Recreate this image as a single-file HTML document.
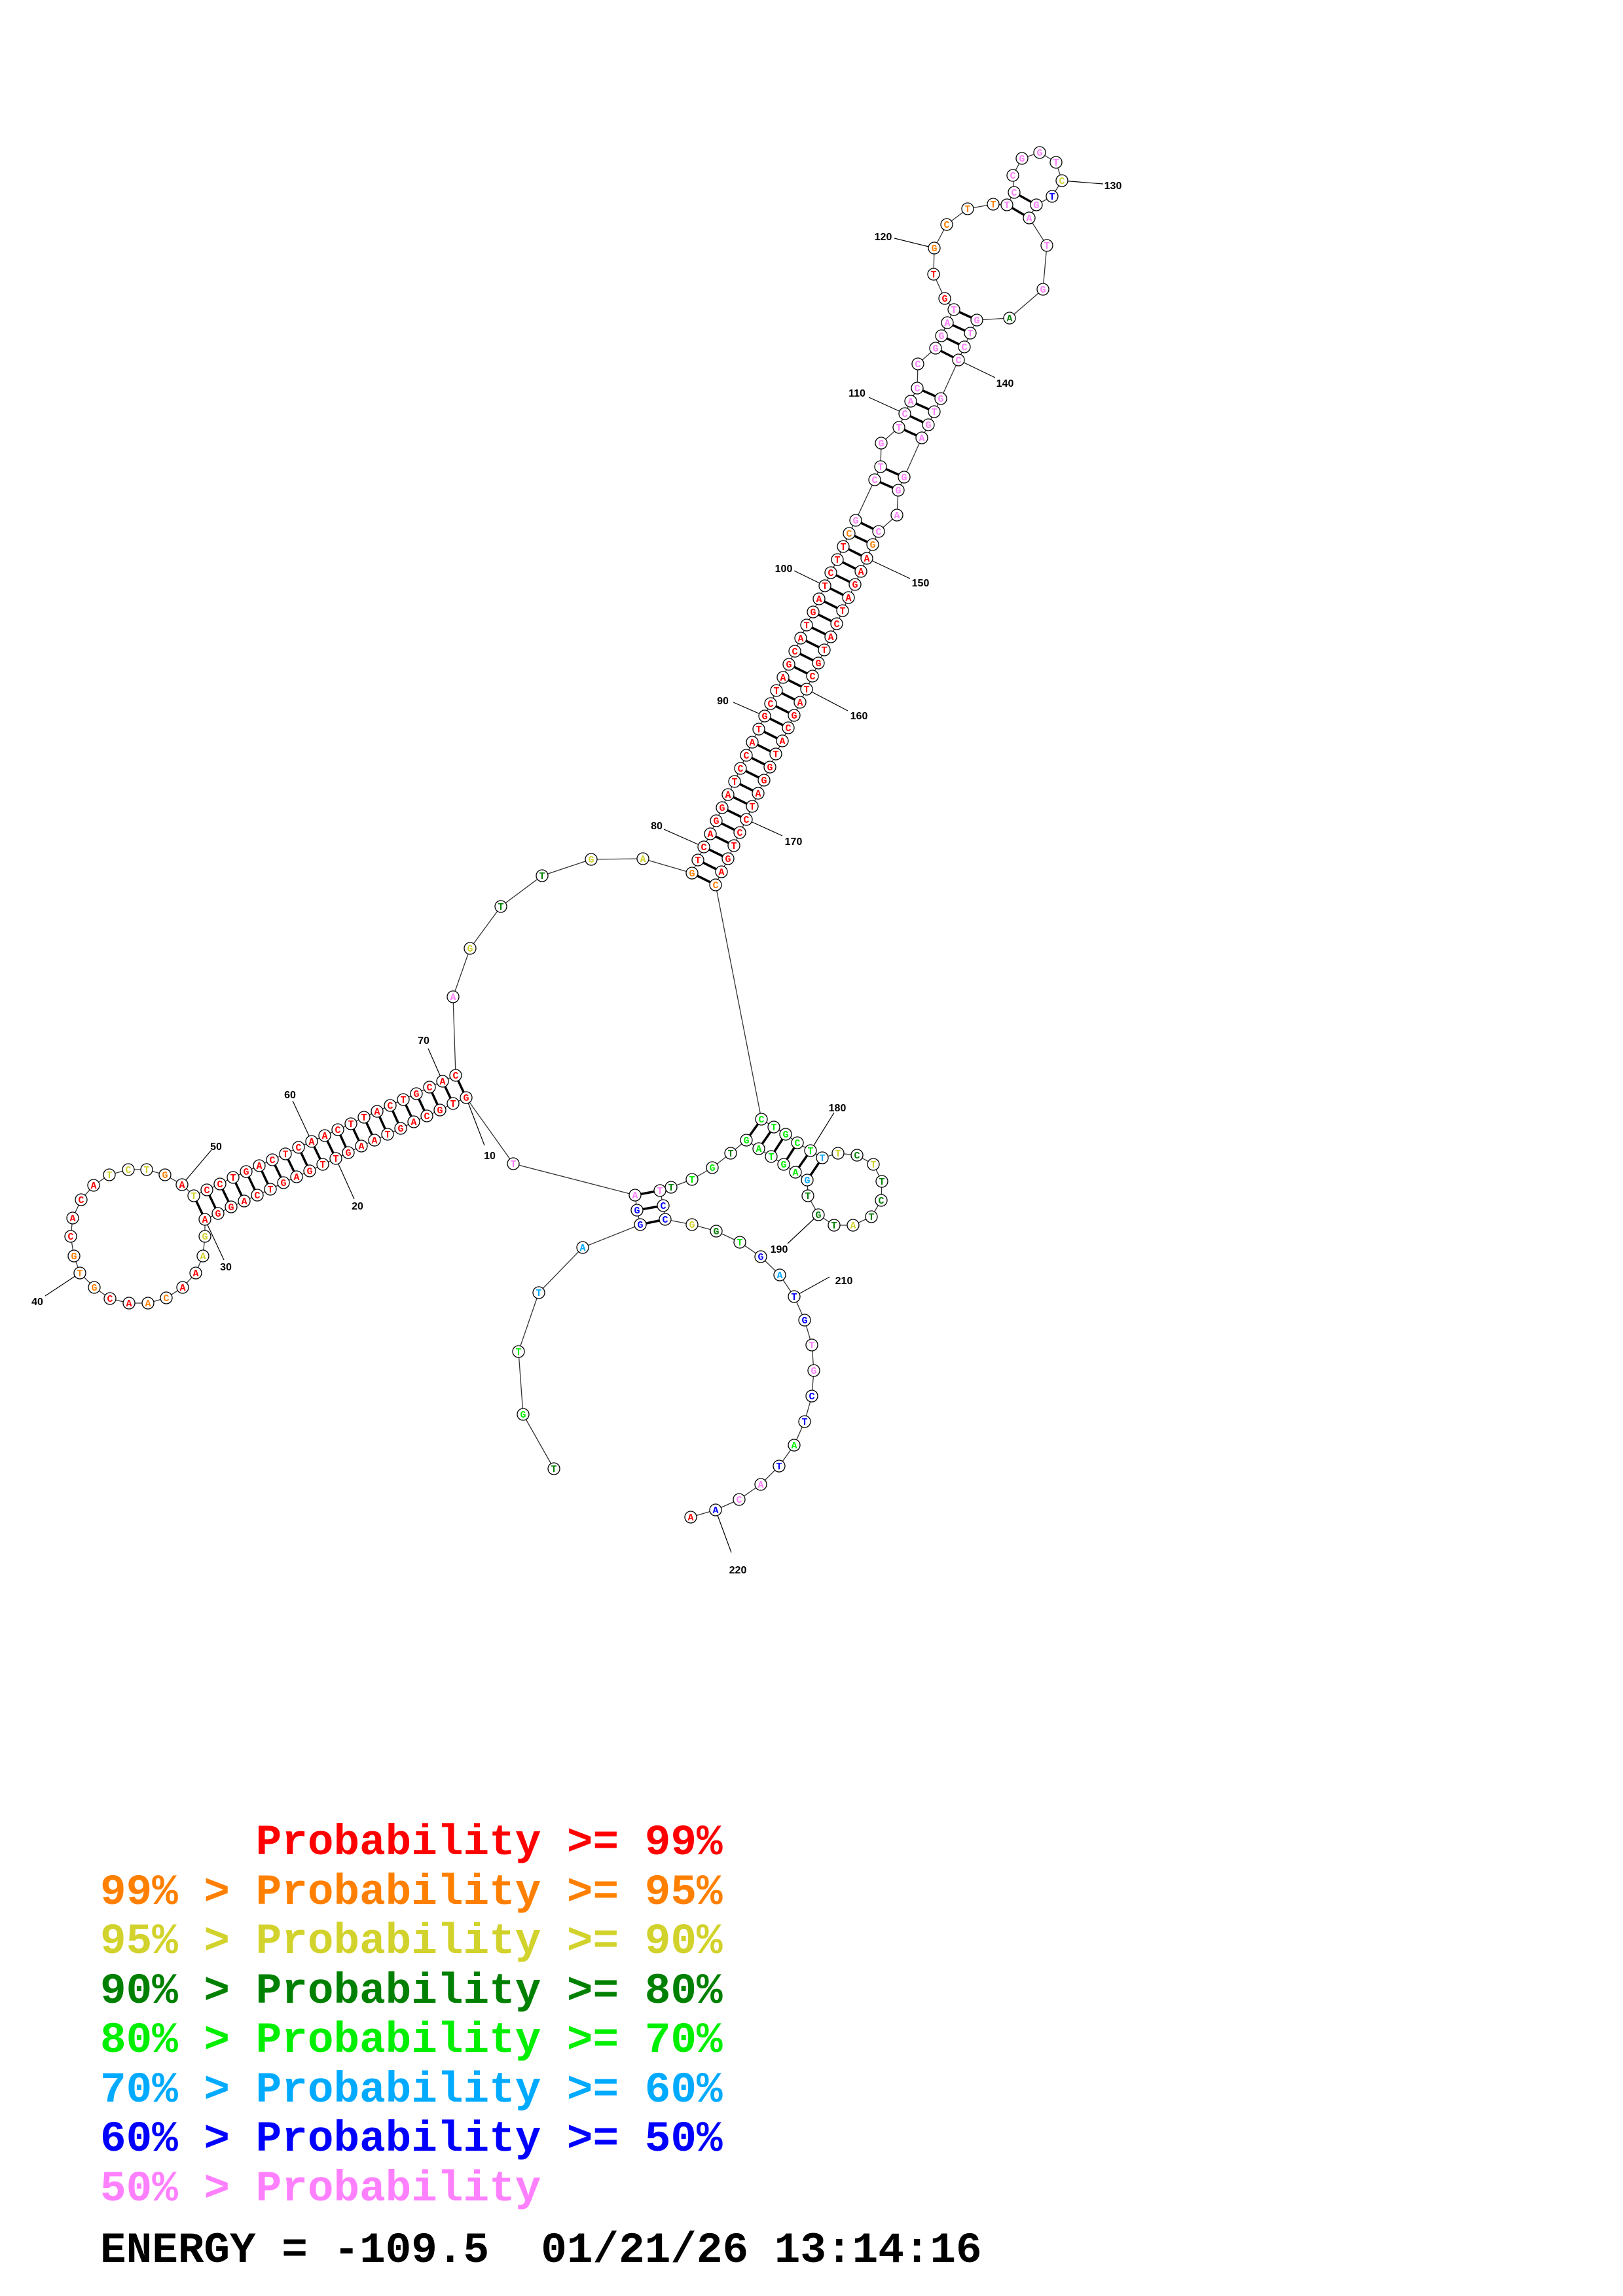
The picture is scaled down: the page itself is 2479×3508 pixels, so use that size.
<!DOCTYPE html>
<html><head><meta charset="utf-8">
<style>
html,body{margin:0;padding:0;background:#fff;}
svg{display:block;}
.bb{fill:none;stroke:#333;stroke-width:1.3;}
.pr line{stroke:#000;stroke-width:3.5;}
.lb line{stroke:#000;stroke-width:1.2;}
.nd circle{fill:#fff;stroke:#000;stroke-width:1.3;}
.nt text{font-family:"Liberation Mono",monospace;font-weight:bold;font-size:15px;text-anchor:middle;}
.lab text{font-family:"Liberation Sans",sans-serif;font-weight:bold;font-size:16px;text-anchor:middle;fill:#000;}
.r{fill:#ff0000}.o{fill:#ff8000}.y{fill:#d2d22c}.d{fill:#008000}.g{fill:#00ee00}.l{fill:#00aaff}.b{fill:#0000ff}.p{fill:#ff80ff}.k{fill:#000}
.leg text{font-family:"Liberation Mono",monospace;font-weight:bold;font-size:66px;white-space:pre;}
</style></head><body>
<svg width="2479" height="3508" viewBox="0 0 2479 3508" xmlns="http://www.w3.org/2000/svg">
<polyline class="bb" points="846,2244 799,2161 792,2065 823,1975 890,1906 978,1871 973,1849 970,1826 784,1778 712,1677 692,1686 672,1696 652,1705 632,1714 612,1724 592,1733 572,1742 552,1751 532,1761 513,1770 493,1779 473,1789 453,1798 433,1807 413,1817 393,1826 373,1835 353,1844 333,1854 313,1863 313,1889 310,1919 299,1945 279,1967 254,1983 226,1991 197,1991 168,1984 144,1967 122,1945 113,1919 108,1889 111,1861 124,1833 143,1811 167,1795 196,1787 224,1787 252,1795 278,1810 296,1827 316,1818 336,1809 356,1799 376,1790 396,1781 416,1772 436,1763 456,1753 476,1744 496,1735 516,1726 536,1717 556,1707 576,1698 596,1689 616,1680 636,1671 656,1661 676,1652 696,1643 692,1523 718,1449 765,1385 828,1338 903,1313 982,1312 1057,1334 1066,1314 1075,1294 1085,1274 1094,1254 1103,1234 1112,1214 1122,1194 1131,1174 1140,1154 1149,1134 1159,1114 1168,1094 1177,1075 1186,1055 1196,1035 1205,1015 1214,995 1223,975 1232,955 1242,935 1251,915 1260,895 1269,875 1279,855 1288,835 1297,815 1307,795 1336,733 1345,713 1346,677 1373,653 1382,632 1391,613 1401,593 1402,556 1429,532 1438,513 1447,493 1457,473 1443,456 1426,419 1427,379 1446,343 1478,319 1517,312 1538,313 1549,294 1547,268 1561,242 1588,233 1613,248 1622,276 1607,300 1583,313 1572,333 1599,375 1593,442 1542,486 1492,489 1482,509 1473,530 1464,550 1437,609 1427,629 1418,649 1408,669 1381,729 1372,749 1370,787 1342,812 1333,832 1324,853 1315,873 1306,893 1296,913 1287,933 1278,953 1269,973 1259,993 1250,1013 1241,1033 1232,1053 1222,1073 1213,1093 1204,1112 1195,1132 1185,1152 1176,1172 1167,1192 1158,1212 1149,1232 1140,1252 1130,1272 1121,1292 1112,1312 1102,1332 1093,1352 1163,1710 1182,1722 1200,1733 1218,1746 1238,1758 1256,1769 1280,1762 1309,1765 1334,1779 1347,1805 1346,1834 1331,1859 1303,1872 1274,1872 1250,1856 1234,1827 1233,1803 1215,1791 1197,1779 1178,1767 1159,1755 1140,1742 1116,1762 1088,1784 1057,1802 1025,1814 1008,1819 1013,1842 1016,1863 1057,1871 1094,1881 1130,1898 1162,1920 1191,1948 1213,1981 1229,2017 1240,2055 1243,2094 1240,2133 1229,2172 1213,2208 1190,2240 1162,2268 1129,2291 1093,2307 1055,2318"/>
<g class="pr">
<line x1="978" y1="1871" x2="1016" y2="1863"/><line x1="973" y1="1849" x2="1013" y2="1842"/><line x1="970" y1="1826" x2="1008" y2="1819"/>
<line x1="712" y1="1677" x2="696" y2="1643"/><line x1="692" y1="1686" x2="676" y2="1652"/><line x1="672" y1="1696" x2="656" y2="1661"/><line x1="652" y1="1705" x2="636" y2="1671"/><line x1="632" y1="1714" x2="616" y2="1680"/><line x1="612" y1="1724" x2="596" y2="1689"/><line x1="592" y1="1733" x2="576" y2="1698"/><line x1="572" y1="1742" x2="556" y2="1707"/><line x1="552" y1="1751" x2="536" y2="1717"/><line x1="532" y1="1761" x2="516" y2="1726"/><line x1="513" y1="1770" x2="496" y2="1735"/><line x1="493" y1="1779" x2="476" y2="1744"/><line x1="473" y1="1789" x2="456" y2="1753"/><line x1="453" y1="1798" x2="436" y2="1763"/><line x1="433" y1="1807" x2="416" y2="1772"/><line x1="413" y1="1817" x2="396" y2="1781"/><line x1="393" y1="1826" x2="376" y2="1790"/><line x1="373" y1="1835" x2="356" y2="1799"/><line x1="353" y1="1844" x2="336" y2="1809"/><line x1="333" y1="1854" x2="316" y2="1818"/><line x1="313" y1="1863" x2="296" y2="1827"/>
<line x1="1057" y1="1334" x2="1093" y2="1352"/><line x1="1066" y1="1314" x2="1102" y2="1332"/><line x1="1075" y1="1294" x2="1112" y2="1312"/><line x1="1085" y1="1274" x2="1121" y2="1292"/><line x1="1094" y1="1254" x2="1130" y2="1272"/><line x1="1103" y1="1234" x2="1140" y2="1252"/><line x1="1112" y1="1214" x2="1149" y2="1232"/><line x1="1122" y1="1194" x2="1158" y2="1212"/><line x1="1131" y1="1174" x2="1167" y2="1192"/><line x1="1140" y1="1154" x2="1176" y2="1172"/><line x1="1149" y1="1134" x2="1185" y2="1152"/><line x1="1159" y1="1114" x2="1195" y2="1132"/><line x1="1168" y1="1094" x2="1204" y2="1112"/><line x1="1177" y1="1075" x2="1213" y2="1093"/><line x1="1186" y1="1055" x2="1222" y2="1073"/><line x1="1196" y1="1035" x2="1232" y2="1053"/><line x1="1205" y1="1015" x2="1241" y2="1033"/><line x1="1214" y1="995" x2="1250" y2="1013"/><line x1="1223" y1="975" x2="1259" y2="993"/><line x1="1232" y1="955" x2="1269" y2="973"/><line x1="1242" y1="935" x2="1278" y2="953"/><line x1="1251" y1="915" x2="1287" y2="933"/><line x1="1260" y1="895" x2="1296" y2="913"/><line x1="1269" y1="875" x2="1306" y2="893"/><line x1="1279" y1="855" x2="1315" y2="873"/><line x1="1288" y1="835" x2="1324" y2="853"/>
<line x1="1297" y1="815" x2="1333" y2="832"/><line x1="1307" y1="795" x2="1342" y2="812"/><line x1="1336" y1="733" x2="1372" y2="749"/><line x1="1345" y1="713" x2="1381" y2="729"/><line x1="1373" y1="653" x2="1408" y2="669"/><line x1="1382" y1="632" x2="1418" y2="649"/><line x1="1391" y1="613" x2="1427" y2="629"/><line x1="1401" y1="593" x2="1437" y2="609"/><line x1="1429" y1="532" x2="1464" y2="550"/><line x1="1438" y1="513" x2="1473" y2="530"/><line x1="1447" y1="493" x2="1482" y2="509"/><line x1="1457" y1="473" x2="1492" y2="489"/><line x1="1538" y1="313" x2="1572" y2="333"/><line x1="1549" y1="294" x2="1583" y2="313"/>
<line x1="1163" y1="1710" x2="1140" y2="1742"/><line x1="1182" y1="1722" x2="1159" y2="1755"/><line x1="1200" y1="1733" x2="1178" y2="1767"/><line x1="1218" y1="1746" x2="1197" y2="1779"/><line x1="1238" y1="1758" x2="1215" y2="1791"/><line x1="1256" y1="1769" x2="1233" y2="1803"/>
</g>
<g class="lb">
<line x1="712" y1="1677" x2="740" y2="1750"/><line x1="513" y1="1770" x2="541" y2="1832"/><line x1="313" y1="1863" x2="342" y2="1925"/><line x1="122" y1="1945" x2="69" y2="1980"/><line x1="278" y1="1810" x2="323" y2="1757"/><line x1="476" y1="1744" x2="447" y2="1682"/><line x1="676" y1="1652" x2="654" y2="1602"/><line x1="1075" y1="1294" x2="1014" y2="1267"/><line x1="1168" y1="1094" x2="1120" y2="1073"/><line x1="1260" y1="895" x2="1213" y2="872"/><line x1="1382" y1="632" x2="1327" y2="607"/><line x1="1427" y1="379" x2="1366" y2="364"/><line x1="1622" y1="276" x2="1685" y2="281"/><line x1="1464" y1="550" x2="1520" y2="577"/><line x1="1324" y1="853" x2="1390" y2="884"/><line x1="1232" y1="1053" x2="1295" y2="1086"/><line x1="1140" y1="1252" x2="1195" y2="1277"/><line x1="1238" y1="1758" x2="1274" y2="1700"/><line x1="1250" y1="1856" x2="1203" y2="1900"/><line x1="1213" y1="1981" x2="1267" y2="1951"/><line x1="1093" y1="2307" x2="1117" y2="2372"/>
</g>
<g class="nd">
<circle cx="846" cy="2244" r="9"/><circle cx="799" cy="2161" r="9"/><circle cx="792" cy="2065" r="9"/><circle cx="823" cy="1975" r="9"/><circle cx="890" cy="1906" r="9"/><circle cx="978" cy="1871" r="9"/><circle cx="973" cy="1849" r="9"/><circle cx="970" cy="1826" r="9"/><circle cx="784" cy="1778" r="9"/><circle cx="712" cy="1677" r="9"/><circle cx="692" cy="1686" r="9"/><circle cx="672" cy="1696" r="9"/><circle cx="652" cy="1705" r="9"/><circle cx="632" cy="1714" r="9"/><circle cx="612" cy="1724" r="9"/><circle cx="592" cy="1733" r="9"/><circle cx="572" cy="1742" r="9"/><circle cx="552" cy="1751" r="9"/><circle cx="532" cy="1761" r="9"/><circle cx="513" cy="1770" r="9"/><circle cx="493" cy="1779" r="9"/><circle cx="473" cy="1789" r="9"/><circle cx="453" cy="1798" r="9"/><circle cx="433" cy="1807" r="9"/><circle cx="413" cy="1817" r="9"/><circle cx="393" cy="1826" r="9"/><circle cx="373" cy="1835" r="9"/><circle cx="353" cy="1844" r="9"/><circle cx="333" cy="1854" r="9"/><circle cx="313" cy="1863" r="9"/><circle cx="313" cy="1889" r="9"/><circle cx="310" cy="1919" r="9"/><circle cx="299" cy="1945" r="9"/><circle cx="279" cy="1967" r="9"/><circle cx="254" cy="1983" r="9"/><circle cx="226" cy="1991" r="9"/><circle cx="197" cy="1991" r="9"/><circle cx="168" cy="1984" r="9"/><circle cx="144" cy="1967" r="9"/><circle cx="122" cy="1945" r="9"/><circle cx="113" cy="1919" r="9"/><circle cx="108" cy="1889" r="9"/><circle cx="111" cy="1861" r="9"/><circle cx="124" cy="1833" r="9"/><circle cx="143" cy="1811" r="9"/><circle cx="167" cy="1795" r="9"/><circle cx="196" cy="1787" r="9"/><circle cx="224" cy="1787" r="9"/><circle cx="252" cy="1795" r="9"/><circle cx="278" cy="1810" r="9"/><circle cx="296" cy="1827" r="9"/><circle cx="316" cy="1818" r="9"/><circle cx="336" cy="1809" r="9"/><circle cx="356" cy="1799" r="9"/><circle cx="376" cy="1790" r="9"/><circle cx="396" cy="1781" r="9"/><circle cx="416" cy="1772" r="9"/><circle cx="436" cy="1763" r="9"/><circle cx="456" cy="1753" r="9"/><circle cx="476" cy="1744" r="9"/><circle cx="496" cy="1735" r="9"/><circle cx="516" cy="1726" r="9"/><circle cx="536" cy="1717" r="9"/><circle cx="556" cy="1707" r="9"/><circle cx="576" cy="1698" r="9"/><circle cx="596" cy="1689" r="9"/><circle cx="616" cy="1680" r="9"/><circle cx="636" cy="1671" r="9"/><circle cx="656" cy="1661" r="9"/><circle cx="676" cy="1652" r="9"/><circle cx="696" cy="1643" r="9"/><circle cx="692" cy="1523" r="9"/><circle cx="718" cy="1449" r="9"/><circle cx="765" cy="1385" r="9"/><circle cx="828" cy="1338" r="9"/><circle cx="903" cy="1313" r="9"/><circle cx="982" cy="1312" r="9"/><circle cx="1057" cy="1334" r="9"/><circle cx="1066" cy="1314" r="9"/><circle cx="1075" cy="1294" r="9"/><circle cx="1085" cy="1274" r="9"/><circle cx="1094" cy="1254" r="9"/><circle cx="1103" cy="1234" r="9"/><circle cx="1112" cy="1214" r="9"/><circle cx="1122" cy="1194" r="9"/><circle cx="1131" cy="1174" r="9"/><circle cx="1140" cy="1154" r="9"/><circle cx="1149" cy="1134" r="9"/><circle cx="1159" cy="1114" r="9"/><circle cx="1168" cy="1094" r="9"/><circle cx="1177" cy="1075" r="9"/><circle cx="1186" cy="1055" r="9"/><circle cx="1196" cy="1035" r="9"/><circle cx="1205" cy="1015" r="9"/><circle cx="1214" cy="995" r="9"/><circle cx="1223" cy="975" r="9"/><circle cx="1232" cy="955" r="9"/><circle cx="1242" cy="935" r="9"/><circle cx="1251" cy="915" r="9"/><circle cx="1260" cy="895" r="9"/><circle cx="1269" cy="875" r="9"/><circle cx="1279" cy="855" r="9"/><circle cx="1288" cy="835" r="9"/><circle cx="1297" cy="815" r="9"/><circle cx="1307" cy="795" r="9"/><circle cx="1336" cy="733" r="9"/><circle cx="1345" cy="713" r="9"/><circle cx="1346" cy="677" r="9"/><circle cx="1373" cy="653" r="9"/><circle cx="1382" cy="632" r="9"/><circle cx="1391" cy="613" r="9"/><circle cx="1401" cy="593" r="9"/><circle cx="1402" cy="556" r="9"/><circle cx="1429" cy="532" r="9"/><circle cx="1438" cy="513" r="9"/><circle cx="1447" cy="493" r="9"/><circle cx="1457" cy="473" r="9"/><circle cx="1443" cy="456" r="9"/><circle cx="1426" cy="419" r="9"/><circle cx="1427" cy="379" r="9"/><circle cx="1446" cy="343" r="9"/><circle cx="1478" cy="319" r="9"/><circle cx="1517" cy="312" r="9"/><circle cx="1538" cy="313" r="9"/><circle cx="1549" cy="294" r="9"/><circle cx="1547" cy="268" r="9"/><circle cx="1561" cy="242" r="9"/><circle cx="1588" cy="233" r="9"/><circle cx="1613" cy="248" r="9"/><circle cx="1622" cy="276" r="9"/><circle cx="1607" cy="300" r="9"/><circle cx="1583" cy="313" r="9"/><circle cx="1572" cy="333" r="9"/><circle cx="1599" cy="375" r="9"/><circle cx="1593" cy="442" r="9"/><circle cx="1542" cy="486" r="9"/><circle cx="1492" cy="489" r="9"/><circle cx="1482" cy="509" r="9"/><circle cx="1473" cy="530" r="9"/><circle cx="1464" cy="550" r="9"/><circle cx="1437" cy="609" r="9"/><circle cx="1427" cy="629" r="9"/><circle cx="1418" cy="649" r="9"/><circle cx="1408" cy="669" r="9"/><circle cx="1381" cy="729" r="9"/><circle cx="1372" cy="749" r="9"/><circle cx="1370" cy="787" r="9"/><circle cx="1342" cy="812" r="9"/><circle cx="1333" cy="832" r="9"/><circle cx="1324" cy="853" r="9"/><circle cx="1315" cy="873" r="9"/><circle cx="1306" cy="893" r="9"/><circle cx="1296" cy="913" r="9"/><circle cx="1287" cy="933" r="9"/><circle cx="1278" cy="953" r="9"/><circle cx="1269" cy="973" r="9"/><circle cx="1259" cy="993" r="9"/><circle cx="1250" cy="1013" r="9"/><circle cx="1241" cy="1033" r="9"/><circle cx="1232" cy="1053" r="9"/><circle cx="1222" cy="1073" r="9"/><circle cx="1213" cy="1093" r="9"/><circle cx="1204" cy="1112" r="9"/><circle cx="1195" cy="1132" r="9"/><circle cx="1185" cy="1152" r="9"/><circle cx="1176" cy="1172" r="9"/><circle cx="1167" cy="1192" r="9"/><circle cx="1158" cy="1212" r="9"/><circle cx="1149" cy="1232" r="9"/><circle cx="1140" cy="1252" r="9"/><circle cx="1130" cy="1272" r="9"/><circle cx="1121" cy="1292" r="9"/><circle cx="1112" cy="1312" r="9"/><circle cx="1102" cy="1332" r="9"/><circle cx="1093" cy="1352" r="9"/><circle cx="1163" cy="1710" r="9"/><circle cx="1182" cy="1722" r="9"/><circle cx="1200" cy="1733" r="9"/><circle cx="1218" cy="1746" r="9"/><circle cx="1238" cy="1758" r="9"/><circle cx="1256" cy="1769" r="9"/><circle cx="1280" cy="1762" r="9"/><circle cx="1309" cy="1765" r="9"/><circle cx="1334" cy="1779" r="9"/><circle cx="1347" cy="1805" r="9"/><circle cx="1346" cy="1834" r="9"/><circle cx="1331" cy="1859" r="9"/><circle cx="1303" cy="1872" r="9"/><circle cx="1274" cy="1872" r="9"/><circle cx="1250" cy="1856" r="9"/><circle cx="1234" cy="1827" r="9"/><circle cx="1233" cy="1803" r="9"/><circle cx="1215" cy="1791" r="9"/><circle cx="1197" cy="1779" r="9"/><circle cx="1178" cy="1767" r="9"/><circle cx="1159" cy="1755" r="9"/><circle cx="1140" cy="1742" r="9"/><circle cx="1116" cy="1762" r="9"/><circle cx="1088" cy="1784" r="9"/><circle cx="1057" cy="1802" r="9"/><circle cx="1025" cy="1814" r="9"/><circle cx="1008" cy="1819" r="9"/><circle cx="1013" cy="1842" r="9"/><circle cx="1016" cy="1863" r="9"/><circle cx="1057" cy="1871" r="9"/><circle cx="1094" cy="1881" r="9"/><circle cx="1130" cy="1898" r="9"/><circle cx="1162" cy="1920" r="9"/><circle cx="1191" cy="1948" r="9"/><circle cx="1213" cy="1981" r="9"/><circle cx="1229" cy="2017" r="9"/><circle cx="1240" cy="2055" r="9"/><circle cx="1243" cy="2094" r="9"/><circle cx="1240" cy="2133" r="9"/><circle cx="1229" cy="2172" r="9"/><circle cx="1213" cy="2208" r="9"/><circle cx="1190" cy="2240" r="9"/><circle cx="1162" cy="2268" r="9"/><circle cx="1129" cy="2291" r="9"/><circle cx="1093" cy="2307" r="9"/><circle cx="1055" cy="2318" r="9"/>
</g>
<g class="nt">
<text x="846" y="2249" class="d">T</text><text x="799" y="2166" class="g">G</text><text x="792" y="2070" class="g">T</text><text x="823" y="1980" class="l">T</text><text x="890" y="1911" class="l">A</text><text x="978" y="1876" class="b">G</text><text x="973" y="1854" class="b">G</text><text x="970" y="1831" class="p">A</text><text x="784" y="1783" class="p">T</text>
<text x="712" y="1682" class="r">G</text><text x="692" y="1691" class="r">T</text><text x="672" y="1701" class="r">G</text><text x="652" y="1710" class="r">C</text><text x="632" y="1719" class="r">A</text><text x="612" y="1729" class="r">G</text><text x="592" y="1738" class="r">T</text><text x="572" y="1747" class="r">A</text><text x="552" y="1756" class="r">A</text><text x="532" y="1766" class="r">G</text><text x="513" y="1775" class="r">T</text><text x="493" y="1784" class="r">T</text><text x="473" y="1794" class="r">G</text><text x="453" y="1803" class="r">A</text><text x="433" y="1812" class="r">G</text><text x="413" y="1822" class="r">T</text><text x="393" y="1831" class="r">C</text><text x="373" y="1840" class="r">A</text><text x="353" y="1849" class="r">G</text><text x="333" y="1859" class="r">G</text><text x="313" y="1868" class="r">A</text>
<text x="313" y="1894" class="y">G</text><text x="310" y="1924" class="y">A</text><text x="299" y="1950" class="r">A</text><text x="279" y="1972" class="r">A</text><text x="254" y="1988" class="o">C</text><text x="226" y="1996" class="o">A</text><text x="197" y="1996" class="r">A</text><text x="168" y="1989" class="r">C</text><text x="144" y="1972" class="o">G</text><text x="122" y="1950" class="o">T</text><text x="113" y="1924" class="o">G</text><text x="108" y="1894" class="r">C</text><text x="111" y="1866" class="r">A</text><text x="124" y="1838" class="r">C</text><text x="143" y="1816" class="r">A</text><text x="167" y="1800" class="y">T</text><text x="196" y="1792" class="y">C</text><text x="224" y="1792" class="y">T</text><text x="252" y="1800" class="o">G</text><text x="278" y="1815" class="r">A</text>
<text x="296" y="1832" class="y">T</text><text x="316" y="1823" class="r">C</text><text x="336" y="1814" class="r">C</text><text x="356" y="1804" class="r">T</text><text x="376" y="1795" class="r">G</text><text x="396" y="1786" class="r">A</text><text x="416" y="1777" class="r">C</text><text x="436" y="1768" class="r">T</text><text x="456" y="1758" class="r">C</text><text x="476" y="1749" class="r">A</text><text x="496" y="1740" class="r">A</text><text x="516" y="1731" class="r">C</text><text x="536" y="1722" class="r">T</text><text x="556" y="1712" class="r">T</text><text x="576" y="1703" class="r">A</text><text x="596" y="1694" class="r">C</text><text x="616" y="1685" class="r">T</text><text x="636" y="1676" class="r">G</text><text x="656" y="1666" class="r">C</text><text x="676" y="1657" class="r">A</text><text x="696" y="1648" class="r">C</text>
<text x="692" y="1528" class="p">A</text><text x="718" y="1454" class="y">G</text><text x="765" y="1390" class="d">T</text><text x="828" y="1343" class="d">T</text><text x="903" y="1318" class="y">G</text><text x="982" y="1317" class="y">A</text>
<text x="1057" y="1339" class="o">G</text><text x="1066" y="1319" class="r">T</text><text x="1075" y="1299" class="r">C</text><text x="1085" y="1279" class="r">A</text><text x="1094" y="1259" class="r">G</text><text x="1103" y="1239" class="r">G</text><text x="1112" y="1219" class="r">A</text><text x="1122" y="1199" class="r">T</text><text x="1131" y="1179" class="r">C</text><text x="1140" y="1159" class="r">C</text><text x="1149" y="1139" class="r">A</text><text x="1159" y="1119" class="r">T</text><text x="1168" y="1099" class="r">G</text><text x="1177" y="1080" class="r">C</text><text x="1186" y="1060" class="r">T</text><text x="1196" y="1040" class="r">A</text><text x="1205" y="1020" class="r">G</text><text x="1214" y="1000" class="r">C</text><text x="1223" y="980" class="r">A</text><text x="1232" y="960" class="r">T</text><text x="1242" y="940" class="r">G</text><text x="1251" y="920" class="r">A</text><text x="1260" y="900" class="r">T</text><text x="1269" y="880" class="r">C</text><text x="1279" y="860" class="r">T</text><text x="1288" y="840" class="r">T</text>
<text x="1297" y="820" class="o">C</text><text x="1307" y="800" class="p">G</text><text x="1336" y="738" class="p">C</text><text x="1345" y="718" class="p">T</text><text x="1346" y="682" class="p">G</text><text x="1373" y="658" class="p">T</text><text x="1382" y="637" class="p">C</text><text x="1391" y="618" class="p">A</text><text x="1401" y="598" class="p">C</text><text x="1402" y="561" class="p">C</text><text x="1429" y="537" class="p">G</text><text x="1438" y="518" class="p">G</text><text x="1447" y="498" class="p">A</text><text x="1457" y="478" class="p">T</text><text x="1443" y="461" class="r">G</text><text x="1426" y="424" class="r">T</text><text x="1427" y="384" class="o">G</text><text x="1446" y="348" class="o">C</text><text x="1478" y="324" class="o">T</text><text x="1517" y="317" class="o">T</text><text x="1538" y="318" class="p">T</text><text x="1549" y="299" class="p">C</text><text x="1547" y="273" class="p">C</text><text x="1561" y="247" class="p">G</text><text x="1588" y="238" class="p">G</text><text x="1613" y="253" class="p">T</text><text x="1622" y="281" class="y">C</text><text x="1607" y="305" class="b">T</text><text x="1583" y="318" class="p">G</text><text x="1572" y="338" class="p">A</text><text x="1599" y="380" class="p">T</text><text x="1593" y="447" class="p">G</text><text x="1542" y="491" class="d">A</text><text x="1492" y="494" class="p">G</text><text x="1482" y="514" class="p">T</text><text x="1473" y="535" class="p">C</text><text x="1464" y="555" class="p">C</text><text x="1437" y="614" class="p">G</text><text x="1427" y="634" class="p">T</text><text x="1418" y="654" class="p">G</text><text x="1408" y="674" class="p">A</text><text x="1381" y="734" class="p">G</text><text x="1372" y="754" class="p">G</text><text x="1370" y="792" class="p">A</text><text x="1342" y="817" class="p">C</text><text x="1333" y="837" class="o">G</text>
<text x="1324" y="858" class="r">A</text><text x="1315" y="878" class="r">A</text><text x="1306" y="898" class="r">G</text><text x="1296" y="918" class="r">A</text><text x="1287" y="938" class="r">T</text><text x="1278" y="958" class="r">C</text><text x="1269" y="978" class="r">A</text><text x="1259" y="998" class="r">T</text><text x="1250" y="1018" class="r">G</text><text x="1241" y="1038" class="r">C</text><text x="1232" y="1058" class="r">T</text><text x="1222" y="1078" class="r">A</text><text x="1213" y="1098" class="r">G</text><text x="1204" y="1117" class="r">C</text><text x="1195" y="1137" class="r">A</text><text x="1185" y="1157" class="r">T</text><text x="1176" y="1177" class="r">G</text><text x="1167" y="1197" class="r">G</text><text x="1158" y="1217" class="r">A</text><text x="1149" y="1237" class="r">T</text><text x="1140" y="1257" class="r">C</text><text x="1130" y="1277" class="r">C</text><text x="1121" y="1297" class="r">T</text><text x="1112" y="1317" class="r">G</text><text x="1102" y="1337" class="r">A</text><text x="1093" y="1357" class="o">C</text>
<text x="1163" y="1715" class="g">C</text><text x="1182" y="1727" class="g">T</text><text x="1200" y="1738" class="g">G</text><text x="1218" y="1751" class="g">C</text><text x="1238" y="1763" class="g">T</text><text x="1256" y="1774" class="l">T</text><text x="1280" y="1767" class="y">T</text><text x="1309" y="1770" class="d">C</text><text x="1334" y="1784" class="y">T</text><text x="1347" y="1810" class="d">T</text><text x="1346" y="1839" class="d">C</text><text x="1331" y="1864" class="d">T</text><text x="1303" y="1877" class="y">A</text><text x="1274" y="1877" class="d">T</text><text x="1250" y="1861" class="d">G</text><text x="1234" y="1832" class="d">T</text><text x="1233" y="1808" class="l">G</text><text x="1215" y="1796" class="g">A</text><text x="1197" y="1784" class="g">G</text><text x="1178" y="1772" class="g">T</text><text x="1159" y="1760" class="g">A</text><text x="1140" y="1747" class="g">G</text><text x="1116" y="1767" class="d">T</text><text x="1088" y="1789" class="g">G</text><text x="1057" y="1807" class="g">T</text><text x="1025" y="1819" class="d">T</text><text x="1008" y="1824" class="p">T</text><text x="1013" y="1847" class="b">C</text><text x="1016" y="1868" class="b">C</text><text x="1057" y="1876" class="y">G</text><text x="1094" y="1886" class="d">G</text><text x="1130" y="1903" class="g">T</text><text x="1162" y="1925" class="b">G</text><text x="1191" y="1953" class="l">A</text><text x="1213" y="1986" class="b">T</text><text x="1229" y="2022" class="b">G</text><text x="1240" y="2060" class="p">T</text><text x="1243" y="2099" class="p">G</text><text x="1240" y="2138" class="b">C</text><text x="1229" y="2177" class="b">T</text><text x="1213" y="2213" class="g">A</text><text x="1190" y="2245" class="b">T</text><text x="1162" y="2273" class="p">A</text><text x="1129" y="2296" class="p">C</text><text x="1093" y="2312" class="b">A</text><text x="1055" y="2323" class="r">A</text>
</g>
<g class="lab">
<text x="748" y="1771">10</text><text x="546" y="1848">20</text><text x="345" y="1941">30</text><text x="57" y="1994">40</text><text x="330" y="1757">50</text><text x="443" y="1678">60</text><text x="647" y="1595">70</text><text x="1003" y="1267">80</text><text x="1104" y="1076">90</text><text x="1197" y="874">100</text><text x="1309" y="606">110</text><text x="1349" y="367">120</text><text x="1700" y="289">130</text><text x="1535" y="591">140</text><text x="1406" y="896">150</text><text x="1312" y="1099">160</text><text x="1212" y="1291">170</text><text x="1279" y="1698">180</text><text x="1190" y="1914">190</text><text x="1289" y="1962">210</text><text x="1127" y="2404">220</text>
</g>
<g class="leg">
<text x="153" y="2833" class="r" xml:space="preserve">      Probability &gt;= 99%</text>
<text x="153" y="2909" class="o" xml:space="preserve">99% &gt; Probability &gt;= 95%</text>
<text x="153" y="2984" class="y" xml:space="preserve">95% &gt; Probability &gt;= 90%</text>
<text x="153" y="3060" class="d" xml:space="preserve">90% &gt; Probability &gt;= 80%</text>
<text x="153" y="3135" class="g" xml:space="preserve">80% &gt; Probability &gt;= 70%</text>
<text x="153" y="3211" class="l" xml:space="preserve">70% &gt; Probability &gt;= 60%</text>
<text x="153" y="3286" class="b" xml:space="preserve">60% &gt; Probability &gt;= 50%</text>
<text x="153" y="3362" class="p" xml:space="preserve">50% &gt; Probability</text>
<text x="153" y="3456" class="k" xml:space="preserve">ENERGY = -109.5  01/21/26 13:14:16</text>
</g>
</svg>
</body></html>
